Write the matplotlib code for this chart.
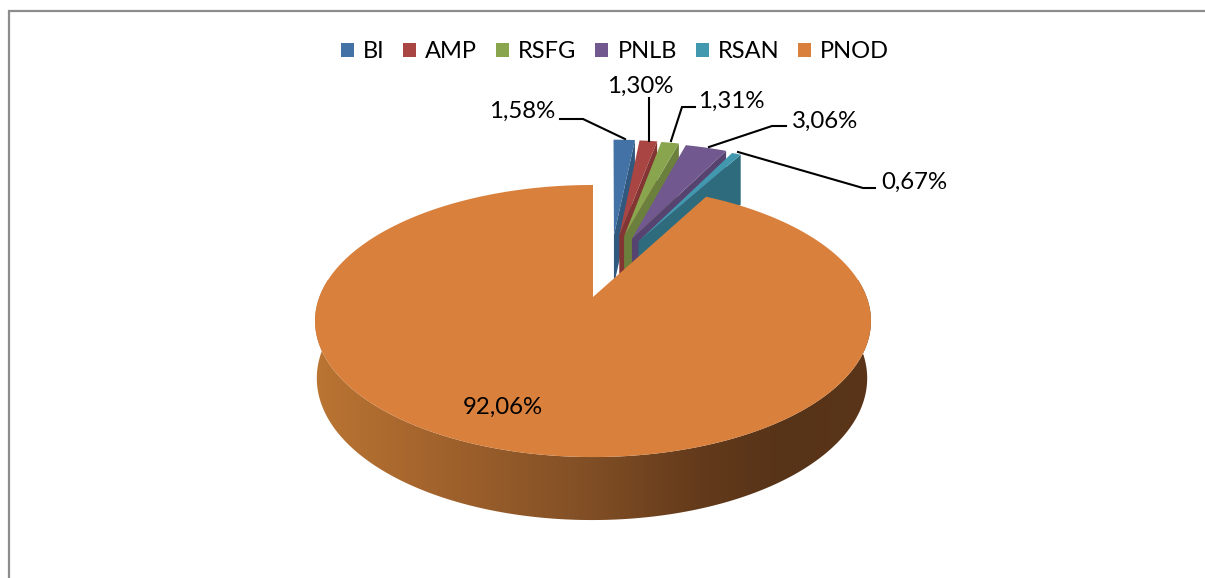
import numpy as np
import matplotlib
matplotlib.use('Agg')
import matplotlib.pyplot as plt
from matplotlib.colors import LinearSegmentedColormap, to_rgb
from matplotlib.patches import Patch, Polygon

# Data
categories = ['BI', 'AMP', 'RSFG', 'PNLB', 'RSAN', 'PNOD']
shares = [1.58, 1.30, 1.31, 3.06, 0.67, 92.06]
share_labels = ['1,58%', '1,30%', '1,31%', '3,06%', '0,67%', '92,06%']

# Colours
top_colors = ['#4272a6', '#a94543', '#89a54e', '#71588f', '#4198af', '#d9803c']
side_colors = ['#31597f', '#833533', '#6c803d', '#57436f', '#2e6c7d', '#7a4a22']
wall_stops = [(0.0, '#bc7633'), (0.18, '#a8672e'), (0.5, '#804e25'),
              (0.69, '#633a1b'), (0.83, '#573318'), (1.0, '#5a3518')]

plt.rcParams['font.family'] = ['Lato', 'DejaVu Sans']
FS = 17.3

# Perspective of the pie disc, in image pixels
CX, CY = 593, 297
A, B, K = 273.6, 131.8, 0.1765
EXPLODE = 0.513
EXPLODE_X = 0.46
SHIFT_X = 18


def project(u, v, shift=0.0):
    d = 1 + K * np.asarray(v)
    return CX + shift + A * np.asarray(u) / d, CY - B * np.asarray(v) / d


fig = plt.figure(figsize=(12.05, 5.78), dpi=100)
ax = fig.add_axes([0, 0, 1, 1])
ax.set_xlim(0, 1205)
ax.set_ylim(578, 0)
ax.axis('off')

# chart border (left and top only are in frame)
ax.plot([8.5, 8.5, 1205], [578, 11, 11], color='#8c8c8c', lw=1.6, solid_joinstyle='miter')

angles = np.radians(np.cumsum([0] + shares) / sum(shares) * 360)

# Small exploded slices, left to right
for i in range(5):
    t0, t1 = angles[i], angles[i + 1]
    mid = (t0 + t1) / 2
    eu, ev = EXPLODE * EXPLODE_X * np.sin(mid), EXPLODE * np.cos(mid)
    t = np.linspace(t0, t1, 20)
    xa, ya = project(np.sin(t) + eu, np.cos(t) + ev, SHIFT_X)
    x0, y0 = project(eu, ev, SHIFT_X)
    depth = 50
    side = [(xa[-1], ya[-1]), (x0, y0), (x0, y0 + depth), (xa[-1], ya[-1] + depth)]
    ax.add_patch(Polygon(side, closed=True, fc=side_colors[i], ec='none', zorder=2 + i))
    top = [(x0, y0)] + list(zip(xa, ya))
    ax.add_patch(Polygon(top, closed=True, fc=top_colors[i], ec='none', zorder=2 + i))

# Big slice: wall gradient clipped to the rim, then top face
t = np.linspace(angles[5], angles[6], 500)
u, v = np.sin(t), np.cos(t)
xt, yt = project(u, v)
xb = 591 + (xt - 592) * 0.99
yb = yt + 56 - 7 * v
front = v < 0.15
wall = list(zip(xt[front], yt[front])) + list(zip(xb[front][::-1], yb[front][::-1]))
wall_patch = Polygon(wall, closed=True, fc='none', ec='none', transform=ax.transData)
ax.add_patch(wall_patch)
cmap = LinearSegmentedColormap.from_list('wall', [(p, to_rgb(c)) for p, c in wall_stops])
im = ax.imshow(np.linspace(0, 1, 512).reshape(1, -1), cmap=cmap, aspect='auto',
               extent=(305, 880, 530, 280), zorder=10, interpolation='bilinear')
im.set_clip_path(wall_patch)
ax.set_xlim(0, 1205)
ax.set_ylim(578, 0)
top = [(CX, CY)] + list(zip(xt, yt))
ax.add_patch(Polygon(top, closed=True, fc=top_colors[5], ec='none', zorder=11))

# Leader lines
leaders = [
    ([560, 583, 625], [119, 119, 139]),
    ([649, 649], [98, 141]),
    ([695, 682, 671], [107, 107, 141]),
    ([786, 772, 709], [126, 126, 147]),
    ([875, 863, 738], [188, 188, 152]),
]
for lx, ly in leaders:
    ax.plot(lx, ly, color='black', lw=1.5, zorder=12, solid_joinstyle='miter')

# Data labels
label_pos = [(522, 111), (640, 86), (731, 101), (825, 121.5), (914, 182.5), (503, 407)]
for s, (lx, ly) in zip(share_labels, label_pos):
    ax.text(lx, ly, s, fontsize=FS, ha='center', va='center', color='black', zorder=13)

handles = [Patch(fc=c, ec='none', label=n) for c, n in zip(top_colors, categories)]
ax.legend(handles=handles, ncol=6, loc='center', bbox_to_anchor=(615 / 1205, 1 - 52 / 578),
          frameon=False, fontsize=17, handlelength=0.55, handleheight=0.55,
          handletextpad=0.38, columnspacing=0.8, borderpad=0)

fig.savefig('out.png', dpi=100)
